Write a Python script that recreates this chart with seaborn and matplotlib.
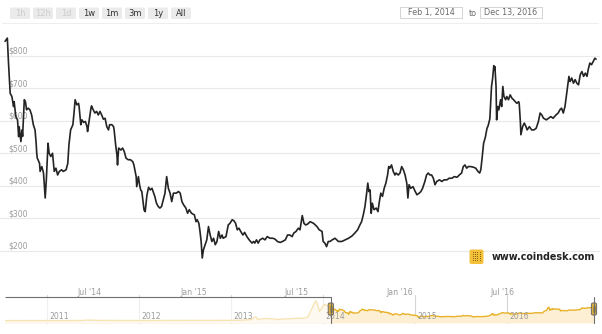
import numpy as np
import pandas as pd
import matplotlib
matplotlib.use("Agg")
import matplotlib.pyplot as plt
import matplotlib.dates as mdates
from matplotlib.patches import FancyBboxPatch, Rectangle
import seaborn as sns

# ---------------------------------------------------------------- data
# Bitcoin price index (USD), Feb 1 2014 - Dec 13 2016
series_start = "2014-02-01"
day_offsets = [
    0, 4, 6, 9, 12, 15, 16, 19, 22, 24, 25, 28, 30, 31, 34, 36, 38, 41, 44, 47,
    50, 53, 55, 56, 57, 61, 62, 65, 68, 71, 73, 76, 78, 81, 84, 87, 90, 93, 96, 100,
    103, 108, 111, 113, 116, 120, 122, 124, 127, 130, 131, 134, 136, 139, 142, 145, 146, 149, 152, 153,
    156, 159, 162, 165, 168, 171, 174, 177, 180, 183, 185, 189, 192, 193, 196, 198, 199, 201, 205, 208,
    211, 214, 218, 222, 226, 228, 232, 233, 236, 238, 240, 242, 246, 248, 251, 254, 257, 260, 263, 265,
    268, 271, 274, 277, 280, 283, 286, 289, 292, 295, 298, 303, 307, 310, 313, 316, 320, 323, 326, 330,
    335, 338, 340, 343, 345, 347, 349, 351, 354, 357, 360, 363, 366, 369, 372, 375, 378, 381, 384, 386,
    391, 395, 398, 402, 405, 408, 411, 414, 417, 421, 424, 428, 432, 437, 440, 442, 445, 448, 451, 456,
    460, 464, 469, 474, 478, 482, 487, 491, 496, 500, 504, 508, 511, 515, 519, 522, 526, 529, 532, 535,
    540, 546, 552, 556, 561, 563, 566, 569, 572, 575, 579, 584, 590, 596, 602, 608, 614, 619, 624, 628,
    631, 634, 637, 640, 642, 644, 646, 648, 650, 653, 657, 660, 662, 665, 668, 671, 674, 677, 679, 681,
    684, 687, 690, 692, 696, 699, 702, 705, 708, 711, 713, 715, 718, 722, 726, 729, 733, 736, 739, 743,
    746, 749, 752, 755, 758, 761, 764, 769, 773, 777, 782, 786, 791, 795, 800, 804, 808, 811, 814, 817,
    820, 824, 829, 833, 837, 840, 842, 844, 847, 850, 853, 855, 858, 861, 863, 865, 866, 867, 869, 870,
    872, 874, 877, 879, 881, 883, 886, 888, 891, 894, 897, 900, 903, 906, 909, 910, 912, 913, 916, 919,
    922, 924, 928, 932, 936, 940, 944, 947, 950, 953, 958, 962, 966, 970, 975, 979, 982, 985, 988, 991,
    995, 998, 1000, 1003, 1006, 1009, 1012, 1015, 1018, 1021, 1024, 1027, 1030, 1032, 1035, 1038, 1041, 1044, 1046,
]
prices = [
    845, 855, 780, 685, 675, 644, 659, 613, 603, 551, 582, 536, 572, 552, 665, 659, 634, 639, 634, 618,
    588, 572, 531, 500, 485, 469, 444, 459, 439, 362, 418, 531, 500, 490, 500, 444, 454, 433, 444, 449,
    444, 449, 469, 526, 572, 588, 624, 665, 649, 654, 644, 588, 603, 595, 598, 582, 567, 603, 639, 646,
    634, 624, 629, 618, 629, 618, 605, 608, 582, 572, 588, 588, 582, 572, 521, 495, 464, 516, 510, 516,
    505, 485, 480, 480, 474, 464, 428, 397, 428, 403, 387, 382, 325, 320, 370, 395, 387, 392, 377, 367,
    346, 336, 331, 336, 356, 377, 428, 392, 377, 351, 377, 377, 382, 377, 351, 341, 331, 315, 326, 315,
    310, 289, 295, 284, 259, 228, 177, 202, 218, 233, 274, 248, 228, 238, 218, 228, 259, 238, 248, 238,
    243, 279, 284, 295, 292, 284, 264, 269, 259, 248, 256, 243, 233, 223, 228, 223, 233, 223, 233, 238,
    233, 243, 238, 238, 235, 228, 225, 228, 233, 248, 248, 243, 254, 259, 269, 264, 308, 284, 279, 281,
    289, 284, 274, 264, 259, 228, 223, 212, 228, 228, 233, 238, 228, 228, 233, 238, 245, 254, 264, 279,
    289, 310, 336, 377, 408, 382, 387, 315, 346, 326, 331, 320, 346, 377, 367, 392, 408, 433, 459, 454,
    464, 444, 433, 439, 433, 439, 459, 449, 433, 408, 362, 403, 392, 397, 382, 372, 377, 382, 392, 413,
    433, 439, 433, 433, 423, 403, 413, 418, 413, 418, 418, 423, 423, 428, 426, 433, 439, 459, 464, 454,
    459, 459, 457, 454, 444, 439, 449, 480, 531, 549, 577, 585, 606, 706, 732, 770, 757, 767, 706, 603,
    644, 634, 665, 644, 706, 675, 665, 675, 665, 680, 670, 665, 659, 654, 659, 654, 598, 557, 582, 593,
    582, 572, 582, 572, 572, 577, 598, 624, 618, 608, 603, 608, 613, 608, 618, 624, 634, 639, 624, 644,
    696, 737, 721, 732, 716, 727, 716, 711, 742, 752, 737, 747, 737, 757, 778, 773, 783, 793, 790,
]

# Earlier history shown only in the navigator strip
early_dates = [
    "2010-07-17", "2010-10-01", "2011-01-01", "2011-02-10", "2011-04-15", "2011-05-20",
    "2011-06-08", "2011-07-15", "2011-08-20", "2011-10-20", "2011-12-15", "2012-02-15",
    "2012-05-01", "2012-07-01", "2012-08-16", "2012-10-15", "2012-12-15", "2013-01-15",
    "2013-02-20", "2013-03-20", "2013-04-09", "2013-04-16", "2013-05-15", "2013-06-15",
    "2013-07-05", "2013-08-15", "2013-09-15", "2013-10-15", "2013-11-01", "2013-11-18",
    "2013-11-30", "2013-12-04", "2013-12-10", "2013-12-18", "2013-12-25", "2014-01-05",
    "2014-01-20",
]
early_prices = [
    0.05, 0.06, 0.3, 1.0, 0.9, 8, 30, 14, 10, 3, 3.5, 5,
    5, 7, 12, 11, 13, 14, 30, 60, 230, 70, 120, 105,
    70, 105, 130, 140, 200, 700, 1100, 1150, 950, 530, 680, 950,
    860,
]

price_ticks = [200, 300, 400, 500, 600, 700, 800]
month_ticks = ["2014-07-01", "2015-01-01", "2015-07-01", "2016-01-01", "2016-07-01"]
month_labels = ["Jul '14", "Jan '15", "Jul '15", "Jan '16", "Jul '16"]
year_ticks = ["2011-01-01", "2012-01-01", "2013-01-01", "2014-01-01", "2015-01-01", "2016-01-01"]
year_labels = ["2011", "2012", "2013", "2014", "2015", "2016"]
range_buttons = ["1h", "12h", "1d", "1w", "1m", "3m", "1y", "All"]
disabled_buttons = {"1h", "12h", "1d"}
range_from, range_to = "Feb 1, 2014", "Dec 13, 2016"
brand = "www.coindesk.com"

# ---------------------------------------------------------------- frames
start = pd.Timestamp(series_start)
main_df = pd.DataFrame({
    "date": start + pd.to_timedelta(day_offsets, unit="D"),
    "price": prices,
})
nav_df = pd.concat([
    pd.DataFrame({"date": pd.to_datetime(early_dates), "price": early_prices}),
    main_df,
], ignore_index=True)

# ---------------------------------------------------------------- style
sns.set_theme(style="white")
plt.rcParams["font.family"] = ["DejaVu Sans"]

W, H = 602, 334
fig = plt.figure(figsize=(W / 100, H / 100), dpi=100)
fig.patch.set_facecolor("white")


def rect(x0, y0, x1, y1):
    """Axes rectangle from pixel box measured from the top-left corner."""
    return [x0 / W, 1 - y1 / H, (x1 - x0) / W, (y1 - y0) / H]


LABEL_GREY = "#9c9c9c"

# ---------------------------------------------------------------- main chart
ax = fig.add_axes(rect(0, 30, 600, 283))
ax.set_facecolor("none")
sns.lineplot(data=main_df, x="date", y="price", ax=ax, color="#242424",
             linewidth=1.2, zorder=3)
ax.set_xlim(start - pd.Timedelta(days=9), start + pd.Timedelta(days=1053))
ax.set_ylim(100, 880)
ax.set_xlabel("")
ax.set_ylabel("")
for s in ax.spines.values():
    s.set_visible(False)

ax.set_yticks(price_ticks)
ax.set_yticklabels([f"${v}" for v in price_ticks])
ax.grid(axis="y", color="#e9e9e9", linewidth=0.8, zorder=0)
ax.grid(axis="x", visible=False)
ax.tick_params(axis="y", length=0, pad=-5.8, labelsize=5.6, labelcolor=LABEL_GREY)
for lbl in ax.get_yticklabels():
    lbl.set_horizontalalignment("left")
    lbl.set_verticalalignment("bottom")

ax.set_xticks(pd.to_datetime(month_ticks))
ax.set_xticklabels(month_labels)
ax.tick_params(axis="x", length=0, pad=3.5, labelsize=5.6, labelcolor=LABEL_GREY)

# ---------------------------------------------------------------- navigator
nav = fig.add_axes(rect(5, 297, 594, 323))
nav.set_facecolor("none")
nav_lo, nav_hi = -140, 1374
nav.fill_between(nav_df["date"], nav_df["price"], nav_lo, color="#fcefd4",
                 linewidth=0, zorder=2)
sns.lineplot(data=nav_df, x="date", y="price", ax=nav, color="#e8b22a",
             linewidth=1.0, zorder=3)
nav_start = pd.Timestamp(early_dates[0])
nav_end = main_df["date"].iloc[-1]
nav.set_xlim(nav_start, nav_end)
nav.set_ylim(nav_lo, nav_hi)
nav.set_xticks([])
nav.set_yticks([])
nav.set_xlabel("")
nav.set_ylabel("")
for s in nav.spines.values():
    s.set_visible(False)

for d in pd.to_datetime(year_ticks):
    nav.axvline(d, ymin=0, ymax=1.08, color="#d6d6d6", linewidth=0.8, zorder=1,
                clip_on=False)
for d, lab in zip(pd.to_datetime(year_ticks), year_labels):
    nav.annotate(lab, xy=(d, 0), xycoords=("data", "axes fraction"),
                 xytext=(1.6, 1.4), textcoords="offset points", ha="left",
                 va="bottom", fontsize=5.6, color=LABEL_GREY, zorder=6)

# unselected part of the navigator is washed out
nav.axvspan(nav_start, start, color="white", alpha=0.66, zorder=5, linewidth=0)
nav.hlines(1.0, nav_start, start, transform=nav.get_xaxis_transform(),
           color="#6e6e6e", linewidth=0.8, zorder=6, clip_on=False)

# ---------------------------------------------------------------- overlay in pixels
ov = fig.add_axes([0, 0, 1, 1])
ov.set_xlim(0, W)
ov.set_ylim(H, 0)
ov.axis("off")
ov.set_facecolor("none")
ov.set_zorder(10)

# range selector buttons
bx = 10
for lab in range_buttons:
    ov.add_patch(FancyBboxPatch((bx, 7.5), 20, 11.5,
                                boxstyle="round,pad=0,rounding_size=1.5",
                                fc="#ebebeb", ec="none"))
    ov.text(bx + 10, 13.4, lab, ha="center", va="center", fontsize=6,
            color="#cdcdcd" if lab in disabled_buttons else "#333333")
    bx += 23

# date range inputs
for x0, lab in ((400, range_from), (480, range_to)):
    ov.add_patch(Rectangle((x0, 6.5), 62, 11.5, fc="white", ec="#d4d4d4", lw=0.7))
    ov.text(x0 + 31, 12.5, lab, ha="center", va="center", fontsize=5.8,
            color="#6a6a6a")
ov.text(473, 13, "to", ha="center", va="center", fontsize=5.8, color="#6a6a6a")
ov.plot([2, 598], [22.5, 22.5], color="#eeeeee", linewidth=0.8)

# brand mark
ov.add_patch(FancyBboxPatch((469.5, 249.5), 14, 14.5,
                            boxstyle="round,pad=0,rounding_size=2",
                            fc="#f4c03a", ec="none"))
for i in range(4):
    for j in range(5):
        ov.add_patch(Rectangle((472.6 + i * 2.4, 252.2 + j * 2.0), 0.9, 0.9,
                               fc="#8a6514", ec="none"))
ov.text(491.5, 257.2, brand, ha="left", va="center", fontsize=6.9,
        color="#222222", fontweight="bold")

# navigator handles at the ends of the selected range
fig.canvas.draw()
to_ov = ov.transData.inverted()
for d in (start, nav_end):
    px, _ = to_ov.transform(nav.transData.transform((mdates.date2num(d), 0)))
    ov.plot([px, px], [297, 323], color="#6e6e6e", linewidth=0.8)
    ov.add_patch(FancyBboxPatch((px - 2.6, 303), 5.2, 12,
                                boxstyle="round,pad=0,rounding_size=1.5",
                                fc="#dcb040", ec="#6a6a6a", lw=0.7))
    ov.plot([px - 0.8, px - 0.8], [306, 312], color="#7a6a3a", linewidth=0.4)
    ov.plot([px + 0.8, px + 0.8], [306, 312], color="#7a6a3a", linewidth=0.4)

fig.savefig("out.png", dpi=100)
